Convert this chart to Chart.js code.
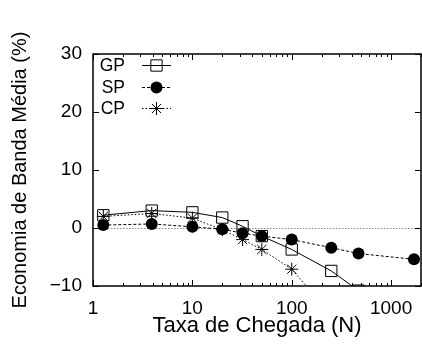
<!DOCTYPE html>
<html>
<head>
<meta charset="utf-8">
<script src="https://cdn.jsdelivr.net/npm/chart.js@4"></script>
<style>
  html, body { margin: 0; padding: 0; background: #fff; }
</style>
</head>
<body>
<canvas id="chart" width="422" height="347"></canvas>
<script>
// arrival rates (x, log scale)
const rates = [1.27, 3.9, 10, 20, 32, 50, 100, 250, 470, 1700];
// series (%), null = no point
const gpValues = [2.2, 3.0, 2.7, 1.8, 0.3, -1.4, -3.7, -7.4, -10.8, null];
const spValues = [0.5, 0.7, 0.2, -0.2, -0.9, -1.4, -2.0, -3.4, -4.4, -5.4];
const cpValues = [2.0, 2.5, 1.7, -0.3, -2.0, -3.7, -7.1, -15.0, null, null];
const xTicks = [1, 10, 100, 1000];
const yTicks = [-10, 0, 10, 20, 30];

const FONT = "'Liberation Sans', Arial, sans-serif";

function points(values) {
    return rates.map((r, i) => ({ x: r, y: values[i] })).filter(p => p.y !== null);
}

const datasets = [
    {
        label: "GP", data: points(gpValues),
        borderColor: "#000", borderWidth: 1, borderDash: [],
        pointStyle: "rect", pointRadius: 8, pointBorderWidth: 1,
        pointBorderColor: "#000", pointBackgroundColor: "rgba(0,0,0,0)"
    },
    {
        label: "SP", data: points(spValues),
        borderColor: "#000", borderWidth: 1, borderDash: [3, 2],
        pointStyle: "circle", pointRadius: 6, pointBorderWidth: 0,
        pointBorderColor: "#000", pointBackgroundColor: "#000"
    },
    {
        label: "CP", data: points(cpValues),
        borderColor: "#000", borderWidth: 1, borderDash: [1.5, 2],
        pointStyle: "star", pointRadius: 6.5, pointBorderWidth: 1,
        pointBorderColor: "#000", pointBackgroundColor: "#000"
    }
];
datasets.forEach(d => { d.clip = { left: 8, right: 8, top: 8, bottom: 0 }; d.tension = 0; });

// zero line, frame, inward ticks and the legend, gnuplot style
const framePlugin = {
    id: "frame",
    beforeDatasetsDraw(chart) {
        const { ctx, chartArea: a, scales } = chart;
        const y0 = Math.round(scales.y.getPixelForValue(0)) + 0.5;
        ctx.save();
        ctx.strokeStyle = "#888";
        ctx.lineWidth = 1;
        ctx.setLineDash([1.5, 1.5]);
        ctx.beginPath();
        ctx.moveTo(a.left, y0);
        ctx.lineTo(a.right, y0);
        ctx.stroke();
        ctx.restore();
    },
    afterDatasetsDraw(chart) {
        const { ctx, chartArea: a, scales } = chart;
        ctx.save();
        ctx.strokeStyle = "#000";
        ctx.lineWidth = 1.5;
        ctx.strokeRect(a.left, a.top, a.right - a.left, a.bottom - a.top);
        ctx.lineWidth = 1;
        ctx.beginPath();
        yTicks.forEach(v => {
            const y = Math.round(scales.y.getPixelForValue(v)) + 0.5;
            ctx.moveTo(a.left, y); ctx.lineTo(a.left + 6, y);
            ctx.moveTo(a.right, y); ctx.lineTo(a.right - 6, y);
        });
        xTicks.forEach(d => {
            for (let k = 1; k <= 9; k++) {
                const v = d * k;
                if (v > scales.x.max) break;
                const x = Math.round(scales.x.getPixelForValue(v)) + 0.5;
                const len = k === 1 ? 6 : 3;
                ctx.moveTo(x, a.bottom); ctx.lineTo(x, a.bottom - len);
                ctx.moveTo(x, a.top); ctx.lineTo(x, a.top + len);
            }
        });
        ctx.stroke();
        ctx.restore();
    },
    afterDraw(chart) {
        const ctx = chart.ctx;
        const rows = [65, 87, 108];
        ctx.save();
        ctx.font = "17.5px " + FONT;
        ctx.textAlign = "right";
        ctx.textBaseline = "middle";
        chart.data.datasets.forEach((ds, i) => {
            const y = rows[i];
            ctx.fillStyle = "#000";
            ctx.fillText(ds.label, 125, y + 1);
            ctx.strokeStyle = "#000";
            ctx.lineWidth = 1;
            ctx.setLineDash(ds.borderDash);
            ctx.beginPath();
            ctx.moveTo(142, y + 0.5); ctx.lineTo(171, y + 0.5);
            ctx.stroke();
            ctx.setLineDash([]);
            ctx.fillStyle = ds.pointBackgroundColor;
            ctx.strokeStyle = ds.pointBorderColor;
            ctx.lineWidth = ds.pointBorderWidth;
            Chart.helpers.drawPoint(ctx, {
                pointStyle: ds.pointStyle, radius: ds.pointRadius,
                rotation: 0, borderWidth: ds.pointBorderWidth
            }, 156.5, y + 0.5);
        });
        ctx.restore();
    }
};

new Chart(document.getElementById("chart"), {
    type: "line",
    data: { datasets: datasets },
    options: {
        responsive: false,
        animation: false,
        layout: { autoPadding: false, padding: { top: 54, right: 1, left: 0, bottom: 0 } },
        plugins: { legend: { display: false }, tooltip: { enabled: false } },
        scales: {
            x: {
                type: "logarithmic",
                min: 1, max: 2000,
                grid: { display: false, drawTicks: false },
                border: { display: false },
                afterBuildTicks: s => { s.ticks = xTicks.map(v => ({ value: v })); },
                afterFit: s => { s.height = 61; s.paddingLeft = 0; s.paddingRight = 0; },
                ticks: {
                    color: "#000", font: { family: FONT, size: 19 }, padding: 11,
                    maxRotation: 0, autoSkip: false,
                    callback: v => String(v)
                },
                title: {
                    display: true, text: "Taxa de Chegada (N)", color: "#000",
                    font: { family: FONT, size: 22 }, padding: { top: 0, bottom: 8 }
                }
            },
            y: {
                min: -10, max: 30,
                grid: { display: false, drawTicks: false },
                border: { display: false },
                afterBuildTicks: s => { s.ticks = yTicks.map(v => ({ value: v })); },
                afterFit: s => { s.width = 93; s.paddingTop = 0; s.paddingBottom = 0; },
                ticks: {
                    color: "#000", font: { family: FONT, size: 19 }, padding: 11,
                    callback: v => (v < 0 ? "\u2212" + Math.abs(v) : String(v))
                },
                title: {
                    display: true, text: "Economia de Banda Média (%)", color: "#000",
                    font: { family: FONT, size: 20 }, padding: { top: 8, bottom: 0 }
                }
            }
        }
    },
    plugins: [framePlugin]
});
</script>
</body>
</html>
